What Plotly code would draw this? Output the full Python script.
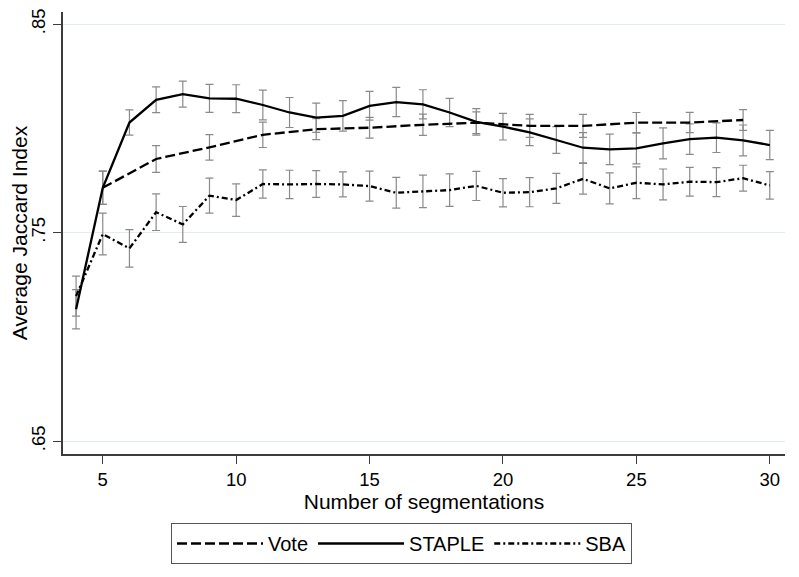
import plotly.graph_objects as go

# ---- data ----
x_all = list(range(4, 31))

vote_x = [5, 7, 9, 11, 13, 15, 17, 19, 21, 23, 25, 27, 29]
vote_y = [0.7715, 0.7853, 0.7909, 0.7969, 0.7996, 0.8003, 0.8017, 0.8027,
          0.8012, 0.8012, 0.8027, 0.8028, 0.8040]
vote_err = [0.0080, 0.0064, 0.0061, 0.0061, 0.0050, 0.0050, 0.0051, 0.0052,
            0.0055, 0.0055, 0.0049, 0.0049, 0.0050]

staple_y = [0.7132, 0.7715, 0.8028, 0.8137, 0.8164, 0.8144, 0.8142, 0.8112,
            0.8076, 0.8051, 0.8060, 0.8108, 0.8126, 0.8115, 0.8076, 0.8031,
            0.8008, 0.7981, 0.7944, 0.7907, 0.7899, 0.7904, 0.7928, 0.7948,
            0.7955, 0.7942, 0.7920]
staple_err = [0.0094, 0.0080, 0.0061, 0.0062, 0.0062, 0.0067, 0.0067, 0.0071,
              0.0072, 0.0070, 0.0073, 0.0069, 0.0070, 0.0070, 0.0068, 0.0064,
              0.0064, 0.0064, 0.0064, 0.0072, 0.0073, 0.0074, 0.0074, 0.0073,
              0.0071, 0.0074, 0.0070]

sba_y = [0.7195, 0.7493, 0.7424, 0.7598, 0.7539, 0.7677, 0.7656, 0.7733,
         0.7731, 0.7733, 0.7731, 0.7723, 0.7691, 0.7698, 0.7704, 0.7724,
         0.7691, 0.7694, 0.7712, 0.7758, 0.7712, 0.7739, 0.7731, 0.7744,
         0.7742, 0.7761, 0.7726]
sba_err = [0.0096, 0.0100, 0.0090, 0.0088, 0.0086, 0.0084, 0.0078, 0.0068,
           0.0068, 0.0064, 0.0060, 0.0072, 0.0074, 0.0078, 0.0078, 0.0070,
           0.0068, 0.0070, 0.0072, 0.0074, 0.0074, 0.0076, 0.0074, 0.0069,
           0.0070, 0.0062, 0.0066]

x_ticks = [5, 10, 15, 20, 25, 30]
y_ticks = [0.65, 0.75, 0.85]
y_ticklabels = [".65", ".75", ".85"]

FONT = "Arial, Liberation Sans, Helvetica, sans-serif"
ERR_COLOR = "#8a8a8a"
AXIS_COLOR = "#3c3c3c"

fig = go.Figure()

# error bars (drawn first, underneath the lines)
for xs, ys, es in [(vote_x, vote_y, vote_err),
                   (x_all, staple_y, staple_err),
                   (x_all, sba_y, sba_err)]:
    fig.add_trace(go.Scatter(
        x=xs, y=ys, mode="markers",
        marker=dict(size=1, color="rgba(0,0,0,0)"),
        error_y=dict(type="data", array=es, visible=True,
                     color=ERR_COLOR, thickness=1.2, width=4),
        showlegend=False, hoverinfo="skip"))

fig.add_trace(go.Scatter(x=vote_x, y=vote_y, mode="lines", name="Vote",
                         line=dict(color="black", width=2.3, dash="10px,4px")))
fig.add_trace(go.Scatter(x=x_all, y=staple_y, mode="lines", name="STAPLE",
                         line=dict(color="black", width=2.3)))
fig.add_trace(go.Scatter(x=x_all, y=sba_y, mode="lines", name="SBA",
                         line=dict(color="black", width=2.3,
                                   dash="6px,3px,2px,3px")))

# page body adds an 8px margin, so the figure is 16px smaller than the window
W, H = 783, 561

fig.update_layout(
    width=W, height=H,
    margin=dict(l=55, r=6, t=4, b=115),
    paper_bgcolor="white", plot_bgcolor="white",
    font=dict(family=FONT, color="black", size=18),
    legend=dict(orientation="h", xref="container", yref="container",
                x=393.5 / W, xanchor="center", y=1 - 515 / H, yanchor="top",
                bordercolor="#555555", borderwidth=1,
                font=dict(size=20, family=FONT),
                itemwidth=86, entrywidth=0, entrywidthmode="pixels"),
    xaxis=dict(range=[3.51, 30.57], tickvals=x_ticks, ticks="outside",
               ticklen=8, tickwidth=1.3, tickcolor=AXIS_COLOR,
               showline=True, linecolor=AXIS_COLOR, linewidth=1.5,
               showgrid=False, zeroline=False, automargin=False,
               tickfont=dict(size=18.5),
               ticklabelstandoff=0,
               title=dict(text="Number of segmentations",
                          font=dict(size=21), standoff=0)),
    yaxis=dict(range=[0.6438, 0.8558], tickvals=y_ticks,
               ticktext=y_ticklabels, tickangle=-90, ticks="outside",
               ticklen=8, tickwidth=1.3, tickcolor=AXIS_COLOR,
               showline=True, linecolor=AXIS_COLOR, linewidth=1.5,
               showgrid=True, gridcolor="#e3eded", gridwidth=1.2,
               zeroline=False, automargin=False, tickfont=dict(size=18.5),
               ticklabelstandoff=1,
               title=dict(text="Average Jaccard Index",
                          font=dict(size=21), standoff=6)),
)

fig.write_html("out.html")
